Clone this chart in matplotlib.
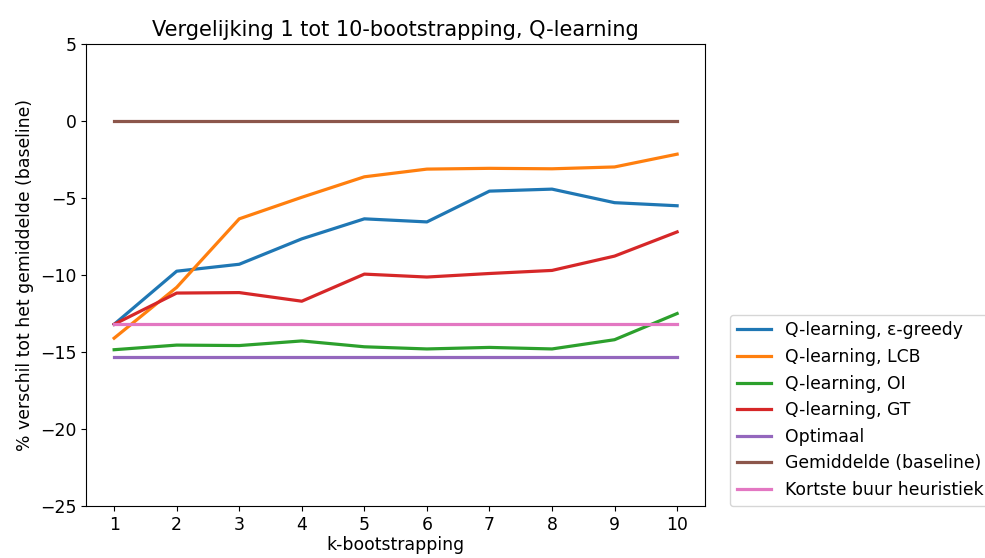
import matplotlib
matplotlib.use("Agg")
import matplotlib.pyplot as plt

# k-bootstrapping steps
k = [1, 2, 3, 4, 5, 6, 7, 8, 9, 10]

# % difference to the mean (baseline) per strategy
eps_greedy = [-13.2, -9.75, -9.3, -7.65, -6.35, -6.55, -4.55, -4.42, -5.3, -5.5]
lcb        = [-14.1, -10.8, -6.35, -4.95, -3.62, -3.12, -3.07, -3.1, -2.98, -2.15]
oi         = [-14.85, -14.55, -14.58, -14.28, -14.66, -14.8, -14.7, -14.8, -14.2, -12.5]
gt         = [-13.2, -11.17, -11.14, -11.7, -9.94, -10.13, -9.9, -9.7, -8.77, -7.2]
optimaal   = [-15.3] * 10
baseline   = [0.0] * 10
kortste    = [-13.2] * 10

series = [
    (eps_greedy, "Q-learning, ε-greedy"),
    (lcb, "Q-learning, LCB"),
    (oi, "Q-learning, OI"),
    (gt, "Q-learning, GT"),
    (optimaal, "Optimaal"),
    (baseline, "Gemiddelde (baseline)"),
    (kortste, "Kortste buur heuristiek"),
]

fig, ax = plt.subplots(figsize=(9.85, 5.58), dpi=100)
fig.subplots_adjust(left=0.0873, right=0.716, top=0.921, bottom=0.0932)

for vals, label in series:
    ax.plot(k, vals, label=label, linewidth=2.3)

ax.set_xticks(k)
ax.set_ylim(-25, 5)
ax.set_yticks(range(-25, 6, 5))
ax.set_title("Vergelijking 1 tot 10-bootstrapping, Q-learning", fontsize=15)
ax.set_xlabel("k-bootstrapping", fontsize=12.4, labelpad=2)
ax.set_ylabel("% verschil tot het gemiddelde (baseline)", fontsize=12.4)
ax.tick_params(labelsize=12.4)
ax.legend(loc="lower left", bbox_to_anchor=(1.04, 0), borderaxespad=0, fontsize=12.4)

fig.savefig("out.png", dpi=100)
